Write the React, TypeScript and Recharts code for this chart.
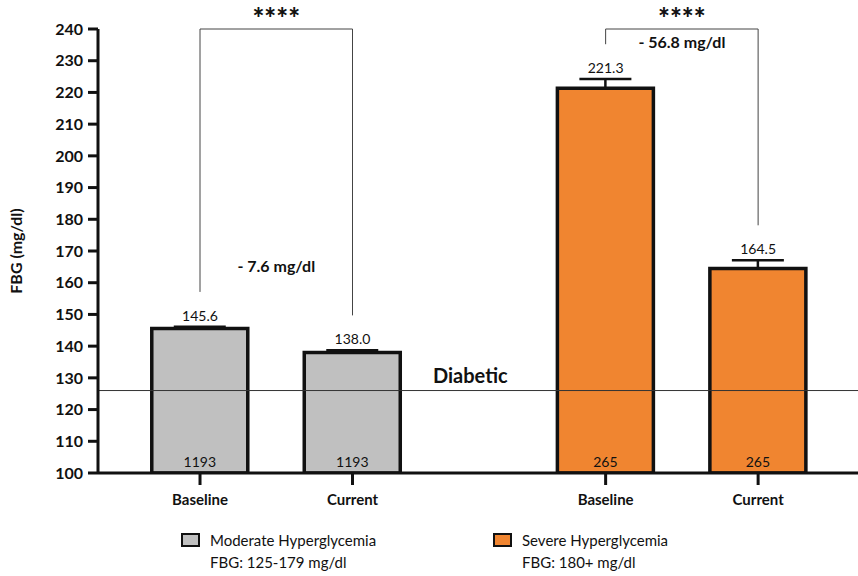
import {
  ComposedChart,
  Bar,
  Cell,
  Line,
  ErrorBar,
  LabelList,
  XAxis,
  YAxis,
  ReferenceLine,
  ReferenceDot,
} from 'recharts';

const groups = ['Moderate Hyperglycemia', 'Severe Hyperglycemia'];
const groupRanges = ['FBG: 125-179 mg/dl', 'FBG: 180+ mg/dl'];
const timepoints = ['Baseline', 'Current'];
const meanFBG = [
  [145.6, 138.0],
  [221.3, 164.5],
];
const semFBG = [
  [0.5, 0.7],
  [2.9, 2.6],
];
const nPatients = [
  [1193, 1193],
  [265, 265],
];
const significance = ['****', '****'];
const diffLabelAt = [165.4, 236.2];
const fbgTicks = [100, 110, 120, 130, 140, 150, 160, 170, 180, 190, 200, 210, 220, 230, 240];
const DIABETIC_FBG = 126;

const groupFill = ['#c0c0c0', '#f08530'];
const GROUP_STEP = 2.66;
const LEG_GAP = 11;
const INK = '#111';
const FONT = 'Lato, "Open Sans", sans-serif';

const rows = groups.flatMap((g, gi) =>
  timepoints.map((t, ti) => ({
    x: gi * GROUP_STEP + ti,
    label: t,
    group: gi,
    value: meanFBG[gi][ti],
    err: [0, semFBG[gi][ti]],
    top: meanFBG[gi][ti] + semFBG[gi][ti],
    n: nPatients[gi][ti],
  })),
);

const xTicks = rows.map(r => r.x);

function Legend() {
  return (
    <div style={{ position: 'absolute', left: 0, top: 529, width: 858, fontFamily: FONT }}>
      {groups.map((g, gi) => (
        <div
          key={g}
          style={{ position: 'absolute', left: gi === 0 ? 181 : 493, top: 0, display: 'flex', alignItems: 'flex-start' }}
        >
          <div
            style={{
              width: 15,
              height: 10,
              marginTop: 4,
              border: `2.5px solid ${INK}`,
              background: groupFill[gi],
            }}
          />
          <div style={{ marginLeft: 10, fontSize: 15, lineHeight: '22px', color: INK }}>
            <div>{g}</div>
            <div>{groupRanges[gi]}</div>
          </div>
        </div>
      ))}
    </div>
  );
}

export default function App() {
  return (
    <div style={{ position: 'absolute', left: 0, top: 0, width: 858, height: 576, background: '#fff', fontFamily: FONT }}>
      <ComposedChart
        width={858}
        height={576}
        data={rows}
        margin={{ top: 29, right: 0, bottom: 73, left: 0 }}
        style={{ fontFamily: FONT }}
      >
        <XAxis
          type="number"
          dataKey="x"
          domain={[-0.669, 4.315]}
          allowDataOverflow
          ticks={xTicks}
          interval={0}
          height={30}
          tickFormatter={(v: number) => rows.find(r => r.x === v)?.label ?? ''}
          axisLine={{ stroke: INK, strokeWidth: 3 }}
          tickLine={{ stroke: INK, strokeWidth: 3 }}
          tickSize={12}
          tickMargin={9}
          tick={{ fontSize: 15, fontWeight: 700, fill: INK }}
        />
        <YAxis
          type="number"
          domain={[100, 240]}
          allowDataOverflow
          ticks={fbgTicks}
          interval={0}
          width={98}
          axisLine={{ stroke: INK, strokeWidth: 3 }}
          tickLine={{ stroke: INK, strokeWidth: 3 }}
          tickSize={10}
          tickMargin={5}
          tick={{ fontSize: 16, fontWeight: 700, fill: INK }}
          label={{
            content: ({ viewBox }: any) => {
              const cy = viewBox.y + viewBox.height / 2;
              return (
                <text
                  x={15}
                  y={cy}
                  transform={`rotate(-90 15 ${cy})`}
                  textAnchor="middle"
                  dominantBaseline="central"
                  fontSize={16}
                  fontWeight={700}
                  fill={INK}
                >
                  FBG (mg/dl)
                </text>
              );
            },
          }}
        />

        <ReferenceLine
          y={DIABETIC_FBG}
          stroke="#333"
          strokeWidth={1}
          ifOverflow="visible"
          label={{
            content: ({ viewBox }: any) => (
              <text x={viewBox.x + 335} y={viewBox.y - 8} fontSize={20} fontWeight={700} fill={INK}>
                Diabetic
              </text>
            ),
          }}
        />

        <Bar dataKey="value" barSize={96} stroke={INK} strokeWidth={3.5} isAnimationActive={false}>
          {rows.map(r => (
            <Cell key={r.x} fill={groupFill[r.group]} />
          ))}
          <ErrorBar dataKey="err" direction="y" width={26} stroke={INK} strokeWidth={2.5} isAnimationActive={false} />
          <LabelList dataKey="n" position="insideBottom" offset={6} fontSize={14} fill={INK} />
        </Bar>

        <Line
          dataKey="top"
          stroke="none"
          dot={false}
          activeDot={false}
          legendType="none"
          isAnimationActive={false}
        >
          <LabelList
            dataKey="value"
            position="top"
            offset={6}
            fontSize={14}
            fill={INK}
            formatter={(v: any) => Number(v).toFixed(1)}
          />
        </Line>

        {groups.map((g, gi) => {
          const [a, b] = rows.filter(r => r.group === gi);
          const leftEnd = a.top + LEG_GAP;
          const rightEnd = b.top + LEG_GAP;
          const diff = `- ${(a.value - b.value).toFixed(1)} mg/dl`;
          return [
            <ReferenceLine
              key={`${g}-top`}
              segment={[{ x: a.x, y: 240 }, { x: b.x, y: 240 }]}
              stroke="#444"
              strokeWidth={1}
              ifOverflow="visible"
              label={{
                content: ({ viewBox }: any) => (
                  <text
                    x={viewBox.x + viewBox.width / 2}
                    y={viewBox.y - 1}
                    textAnchor="middle"
                    fontSize={28}
                    fontWeight={900}
                    fill={INK}
                  >
                    {significance[gi]}
                  </text>
                ),
              }}
            />,
            <ReferenceLine
              key={`${g}-l`}
              segment={[{ x: a.x, y: 240 }, { x: a.x, y: leftEnd }]}
              stroke="#444"
              strokeWidth={1}
              ifOverflow="visible"
            />,
            <ReferenceLine
              key={`${g}-r`}
              segment={[{ x: b.x, y: 240 }, { x: b.x, y: rightEnd }]}
              stroke="#444"
              strokeWidth={1}
              ifOverflow="visible"
            />,
            <ReferenceDot
              key={`${g}-diff`}
              x={(a.x + b.x) / 2}
              y={diffLabelAt[gi]}
              r={0}
              fill="none"
              stroke="none"
              ifOverflow="visible"
              label={{
                content: ({ viewBox }: any) => (
                  <text
                    x={viewBox.x + viewBox.width / 2}
                    y={viewBox.y + viewBox.height / 2}
                    textAnchor="middle"
                    dominantBaseline="central"
                    fontSize={16}
                    fontWeight={700}
                    fill={INK}
                  >
                    {diff}
                  </text>
                ),
              }}
            />,
          ];
        })}
      </ComposedChart>
      <Legend />
    </div>
  );
}
